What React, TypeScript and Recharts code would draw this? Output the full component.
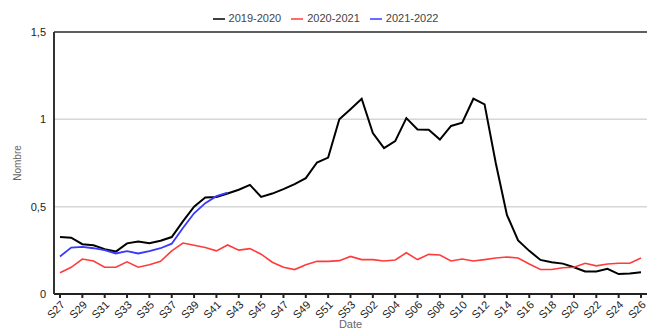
import React from 'react';
import {
  LineChart,
  Line,
  XAxis,
  YAxis,
  CartesianGrid,
  Legend,
  ReferenceLine,
} from 'recharts';

const weeks: string[] = [
  'S27', 'S28', 'S29', 'S30', 'S31', 'S32', 'S33', 'S34', 'S35', 'S36', 'S37', 'S38', 'S39', 'S40',
  'S41', 'S42', 'S43', 'S44', 'S45', 'S46', 'S47', 'S48', 'S49', 'S50', 'S51', 'S52', 'S53',
  'S01', 'S02', 'S03', 'S04', 'S05', 'S06', 'S07', 'S08', 'S09', 'S10', 'S11', 'S12', 'S13',
  'S14', 'S15', 'S16', 'S17', 'S18', 'S19', 'S20', 'S21', 'S22', 'S23', 'S24', 'S25', 'S26',
];

const s2019: number[] = [
  0.327, 0.322, 0.285, 0.279, 0.257, 0.243, 0.29, 0.3, 0.29, 0.305, 0.326, 0.416, 0.5, 0.552,
  0.556, 0.575, 0.597, 0.625, 0.556, 0.575, 0.6, 0.629, 0.663, 0.753, 0.781, 1.0, 1.058,
  1.118, 0.921, 0.835, 0.875, 1.007, 0.942, 0.94, 0.884, 0.962, 0.981, 1.118, 1.086, 0.75,
  0.453, 0.307, 0.247, 0.195, 0.182, 0.174, 0.153, 0.129, 0.129, 0.144, 0.114, 0.118, 0.124,
];

const s2020: number[] = [
  0.122, 0.153, 0.2, 0.189, 0.153, 0.153, 0.184, 0.153, 0.167, 0.187, 0.247, 0.292, 0.279, 0.266,
  0.247, 0.281, 0.251, 0.26, 0.228, 0.182, 0.153, 0.14, 0.167, 0.187, 0.187, 0.191, 0.215,
  0.197, 0.197, 0.189, 0.195, 0.236, 0.197, 0.227, 0.223, 0.189, 0.2, 0.189, 0.197, 0.206,
  0.212, 0.206, 0.172, 0.14, 0.14, 0.15, 0.153, 0.176, 0.161, 0.172, 0.176, 0.176, 0.206,
];

const s2021: number[] = [
  0.215, 0.266, 0.27, 0.262, 0.251, 0.232, 0.245, 0.232, 0.245, 0.262, 0.288, 0.378, 0.462,
  0.52, 0.56, 0.58,
];

const yTicks = [0, 0.5, 1, 1.5];

const data = weeks.map((week, i) => ({
  week,
  a: s2019[i],
  b: s2020[i],
  c: i < s2021.length ? s2021[i] : null,
}));

const font = '"Liberation Sans", Arial, sans-serif';

// axis title drawn at a fixed spot left of the y axis
const YTitle = () => (
  <text
    x={17}
    y={163}
    transform="rotate(-90 17 163)"
    textAnchor="middle"
    dominantBaseline="central"
    fontSize={10}
    fill="#666"
    fontFamily={font}
  >
    Nombre
  </text>
);

export default function App() {
  return (
    <div style={{ position: 'absolute', left: 0, top: 0, fontFamily: font }}>
      <LineChart
        width={649}
        height={331}
        data={data}
        margin={{ top: 8, right: 2, bottom: 0, left: 14 }}
      >
        <CartesianGrid vertical={false} stroke="#d6d6d6" strokeWidth={1.5} />
        <ReferenceLine y={1.5} stroke="#333" strokeWidth={1.5} />
        <XAxis
          dataKey="week"
          interval={1}
          padding={{ left: 6, right: 6 }}
          stroke="#222"
          strokeWidth={2}
          tickSize={4}
          tick={{ fontSize: 11, fill: '#222', fontFamily: font, angle: -45, textAnchor: 'end' } as any}
          height={37}
          label={{ value: 'Date', position: 'insideBottom', offset: 3, fontSize: 11, fill: '#666', fontFamily: font }}
        />
        <YAxis
          domain={[0, 1.5]}
          ticks={yTicks}
          width={40}
          stroke="#333"
          strokeWidth={2}
          tickLine={false}
          tick={{ fontSize: 11, fill: '#222', fontFamily: font }}
          tickFormatter={(v) => String(v).replace('.', ',')}
          label={<YTitle />}
        />
        <Legend
          verticalAlign="top"
          height={20}
          iconType="plainline"
          iconSize={12}
          wrapperStyle={{ fontSize: 11, fontFamily: font, paddingTop: 4 }}
          formatter={(value) => <span style={{ color: '#444' }}>{value}</span>}
        />
        <Line
          name="2019-2020"
          dataKey="a"
          stroke="#000"
          strokeWidth={2}
          dot={false}
          isAnimationActive={false}
        />
        <Line
          name="2020-2021"
          dataKey="b"
          stroke="#ff3b3b"
          strokeWidth={1.6}
          dot={false}
          isAnimationActive={false}
        />
        <Line
          name="2021-2022"
          dataKey="c"
          stroke="#3838ff"
          strokeWidth={1.8}
          dot={false}
          isAnimationActive={false}
        />
      </LineChart>
    </div>
  );
}
